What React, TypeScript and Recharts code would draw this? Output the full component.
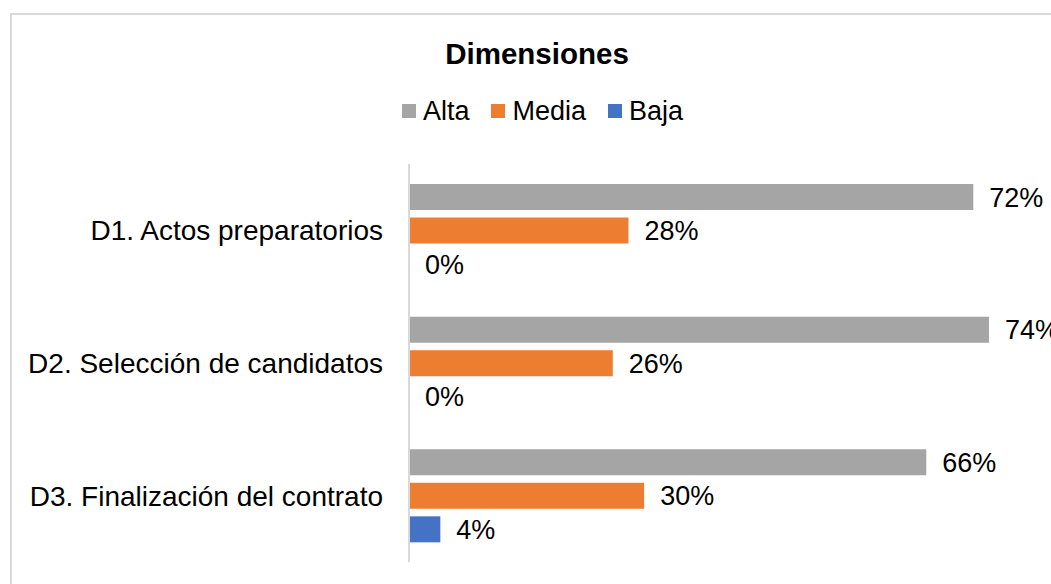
import { BarChart, Bar, XAxis, YAxis, Legend, LabelList } from "recharts";

const categories = [
  "D1. Actos preparatorios",
  "D2. Selección de candidatos",
  "D3. Finalización del contrato",
];
const seriesNames = ["Alta", "Media", "Baja"];
const alta = [72, 74, 66];
const media = [28, 26, 30];
const baja = [0, 0, 4];

const data = categories.map((name, i) => ({
  name,
  Alta: alta[i],
  Media: media[i],
  Baja: baja[i],
}));

const FONT = '"Liberation Sans", Arial, sans-serif';

const renderLegend = (props: any) => {
  const items = [...(props.payload || [])].sort(
    (a: any, b: any) => seriesNames.indexOf(a.value) - seriesNames.indexOf(b.value)
  );
  return (
    <div style={{ display: "flex", justifyContent: "center", fontFamily: FONT, fontSize: 27, color: "#000" }}>
      {items.map((it: any, i: number) => (
        <div key={i} style={{ display: "flex", alignItems: "center", marginLeft: i ? 22 : 0 }}>
          <span style={{ width: 14, height: 14, background: it.color, display: "inline-block", marginRight: 7 }} />
          <span style={{ lineHeight: "30px" }}>{it.value}</span>
        </div>
      ))}
    </div>
  );
};

export default function App() {
  const pct = (v: any) => `${v}%`;
  return (
    <div style={{ position: "fixed", left: 0, top: 0, width: 1051, height: 584, overflow: "hidden", background: "#fff" }}>
      <div
        style={{
          position: "absolute",
          left: 10,
          top: 13,
          width: 1100,
          height: 700,
          border: "2px solid #d9d9d9",
        }}
      />
      <div
        style={{
          position: "absolute",
          left: 0,
          top: 39,
          width: 1074,
          textAlign: "center",
          fontFamily: FONT,
          fontWeight: "bold",
          fontSize: 29.5,
          lineHeight: "29px",
          color: "#000",
        }}
      >
        Dimensiones
      </div>
      <div style={{ position: "absolute", left: 0, top: 0 }}>
        <BarChart
          width={1051}
          height={584}
          data={data}
          layout="vertical"
          margin={{ top: 164, right: 15, bottom: 22, left: 0 }}
          barGap={7.5}
          barSize={26}
        >
          <XAxis type="number" domain={[0, 80]} hide />
          <YAxis
            type="category"
            dataKey="name"
            width={409}
            tickLine={false}
            tickSize={0}
            tickMargin={26}
            axisLine={{ stroke: "#d9d9d9", strokeWidth: 2 }}
            tick={{ fill: "#000", fontSize: 28, fontFamily: FONT }}
          />
          <Legend
            layout="horizontal"
            align="center"
            verticalAlign="middle"
            content={renderLegend}
            wrapperStyle={{ top: 96, left: 0, width: 1085 }}
          />
          <Bar dataKey="Alta" fill="#A5A5A5" isAnimationActive={false}>
            <LabelList dataKey="Alta" position="right" offset={16} formatter={pct} fill="#000" fontSize={27} fontFamily={FONT} />
          </Bar>
          <Bar dataKey="Media" fill="#ED7D31" isAnimationActive={false}>
            <LabelList dataKey="Media" position="right" offset={16} formatter={pct} fill="#000" fontSize={27} fontFamily={FONT} />
          </Bar>
          <Bar dataKey="Baja" fill="#4472C4" minPointSize={0.01} isAnimationActive={false}>
            <LabelList dataKey="Baja" position="right" offset={16} formatter={pct} fill="#000" fontSize={27} fontFamily={FONT} />
          </Bar>
        </BarChart>
      </div>
    </div>
  );
}
